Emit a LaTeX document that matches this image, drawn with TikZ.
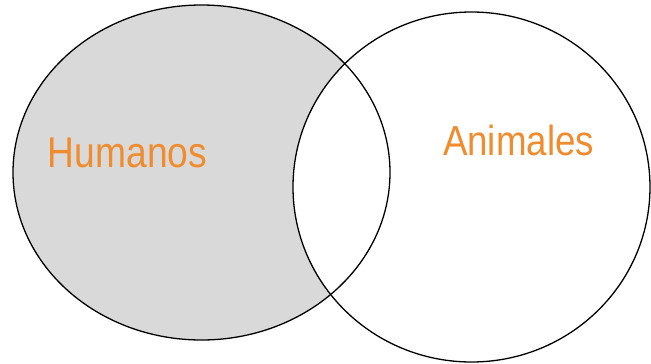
\documentclass[tikz,border=0pt]{standalone}
\usepackage{fontspec}
\setmainfont{Liberation Sans}
\definecolor{setgray}{RGB}{217,217,217}
\definecolor{labelorange}{RGB}{240,140,45}
\begin{document}
\begin{tikzpicture}[x=1pt,y=-1pt,
  setline/.style={draw=black,line width=1.3pt},
  setlabel/.style={text=labelorange,anchor=base,inner sep=0pt,font=\fontsize{43}{43}\selectfont,xscale=0.865}]
\useasboundingbox[fill=white] (0,0) rectangle (651,364);
\fill[setgray] (201.5,172.5) ellipse [x radius=188.5, y radius=167.5];
\fill[white] (471.5,187) ellipse [x radius=178.5, y radius=175];
\draw[setline] (201.5,172.5) ellipse [x radius=188.5, y radius=167.5];
\draw[setline] (471.5,187) ellipse [x radius=178.5, y radius=175];
\node[setlabel] (humanos) at (127.5,167) {Humanos};
\node[setlabel,font=\fontsize{42}{42}\selectfont,xscale=0.874/0.865] (animales) at (518.5,155) {Animales};
\end{tikzpicture}
\end{document}
